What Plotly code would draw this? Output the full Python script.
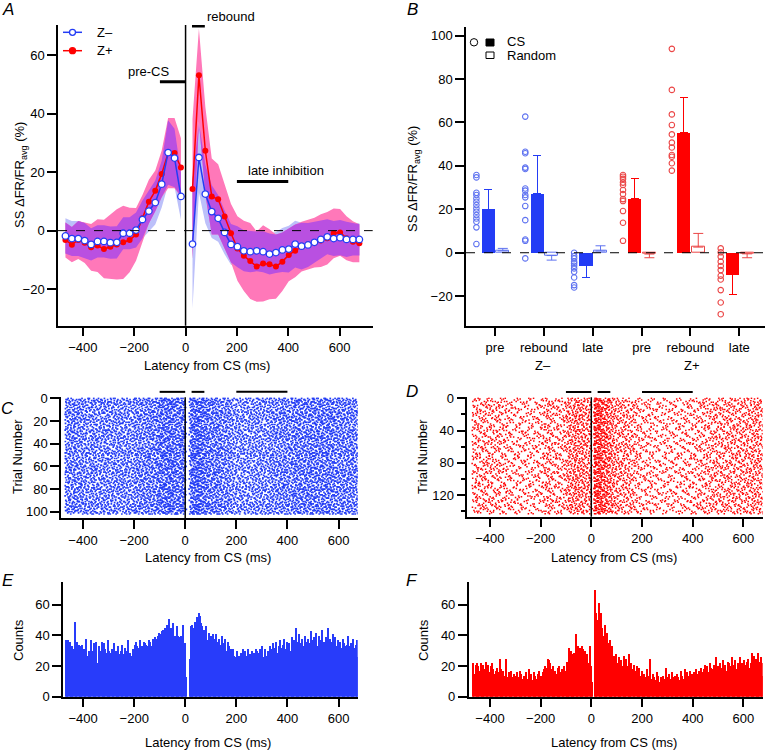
import numpy as np
import plotly.graph_objects as go

W, H = 765, 750
def X(px): return px / W
def Y(py): return 1 - py / H

# ---------------- Panel A data ----------------
lat_pre = [-468, -443, -418, -393, -368, -343, -318, -293, -268, -243, -218, -193, -168, -143, -118, -93, -68, -43, -18]
lat_post = [27, 52, 77, 102, 127, 152, 177, 202, 227, 252, 277, 302, 327, 352, 377, 402, 427, 452, 477, 502, 527, 552, 577, 602, 627, 652, 677]

zminus_pre = [-1.8, -2.7, -2.7, -3.4, -4.7, -3.7, -3.7, -4.1, -4.0, -0.9, -0.9, 0.2, 3.8, 6.7, 9.6, 15.9, 26.7, 24.8, 11.7]
zminus_pre_sd = [6, 6, 6, 6, 5.5, 5.5, 5.5, 5.5, 5.5, 5.5, 5.5, 6, 6.5, 7, 7.5, 8, 11, 10, 8]
zplus_pre = [-3.2, -4.8, -3.2, -4.1, -5.7, -5.1, -6.3, -5.5, -4.7, -4.0, -3.2, -1.3, 4.2, 9.9, 13.6, 19.4, 26.5, 26.5, 21.6]
zplus_pre_sd = [6, 6, 6.5, 7, 8, 9, 10, 11, 12, 12.5, 11, 9, 8, 7.5, 7, 8, 12, 12, 10]

zminus_post = [-4.6, 25, 12.5, 6.5, 4.2, -0.6, -4.7, -5.5, -6.9, -7.2, -6.9, -7.2, -8, -7.5, -6.6, -6.3, -4.6, -5.3, -4.9, -4.0, -3.0, -2.1, -2.7, -2.4, -3, -3, -3]
zminus_post_sd = [22, 12, 10, 9, 8, 7.5, 7, 7, 7, 7, 7, 7, 7, 7, 7.5, 8, 8, 8, 7.5, 7, 6.5, 6, 6, 6, 6, 5.5, 5.5]
zplus_post = [14.2, 53.1, 27.3, 11.7, 10.7, 4.8, -0.9, -6.1, -8.6, -10.4, -12.3, -11.2, -11.5, -12.3, -10.6, -8.3, -6.9, -5.5, -4.7, -4.1, -3.4, -2.6, -0.9, -0.6, -2.6, -3.8, -4.3]
zplus_post_sd = [24, 16, 15, 13, 12, 11, 10, 11, 12, 13, 12, 13, 12, 11, 10, 9, 9, 8.5, 8.5, 8.5, 9, 9, 8.5, 8, 7.5, 7, 6.5]

# ---------------- Panel B data ----------------
categories = ['pre', 'rebound', 'late', 'pre', 'rebound', 'late']
cs_mean = [20.1, 27.3, -6.1, 24.9, 55.3, -10.0]
cs_err = [8.8, 17.7, 5.3, 9.1, 16.1, 9.2]
rand_mean = [0.9, -1.3, 0.8, -0.6, 2.6, -0.5]
rand_err = [1.1, 2.1, 2.4, 1.7, 6.3, 1.8]
cell_values = [
    [35.8, 34.7, 27.6, 26.6, 25.0, 23.5, 22.0, 20.4, 18.9, 17.4, 15.8, 14.3, 11.7, 4.0],
    [62.7, 46.5, 45.8, 39.2, 38.6, 29.6, 28.6, 26.6, 25.5, 21.5, 15.0, 6.1, 5.5, -2.6],
    [0.0, -1.5, -2.6, -4.1, -4.9, -6.0, -7.2, -8.8, -11.4, -14.9, -16.0],
    [35.8, 35.0, 34.0, 32.3, 31.2, 28.9, 27.0, 24.7, 23.8, 19.2, 13.8, 5.5],
    [93.9, 75.0, 63.7, 58.8, 54.5, 50.7, 48.5, 45.0, 44.2, 41.2, 37.8],
    [2.0, 0.2, -1.8, -4.1, -6.1, -8.0, -10.6, -12.3, -17.2, -22.9, -28.3],
]

# ---------------- Panels E/F histogram data (5 ms bins from -470 ms) ----------------
bin_start, bin_width = -470, 5
counts_zminus = [
    37, 28, 37, 36, 30, 33, 31, 49, 22, 36,
    34, 30, 33, 34, 31, 29, 38, 27, 30, 26,
    37, 30, 35, 31, 36, 22, 33, 30, 36, 25,
    35, 31, 29, 37, 30, 29, 31, 28, 35, 30,
    29, 33, 28, 30, 34, 28, 32, 30, 27, 37,
    29, 27, 26, 31, 34, 36, 33, 32, 37, 33,
    33, 36, 35, 34, 33, 37, 36, 33, 38, 37,
    39, 38, 40, 42, 41, 43, 44, 42, 45, 47,
    43, 51, 45, 42, 48, 40, 40, 46, 40, 39,
    40, 38, 47, 35, 13, 0, 0, 25, 46, 47,
    45, 49, 48, 52, 55, 53, 48, 46, 44, 38,
    46, 37, 42, 35, 40, 41, 33, 38, 41, 36,
    38, 34, 40, 35, 32, 38, 30, 36, 33, 31,
    29, 31, 27, 26, 30, 25, 27, 29, 26, 31,
    30, 26, 27, 31, 28, 25, 30, 29, 27, 31,
    30, 29, 31, 28, 33, 26, 31, 27, 30, 29,
    33, 31, 35, 30, 32, 36, 29, 33, 37, 32,
    34, 38, 31, 36, 33, 35, 30, 39, 34, 37,
    45, 33, 36, 41, 35, 38, 33, 40, 36, 34,
    38, 35, 43, 37, 39, 36, 42, 33, 40, 35,
    37, 44, 36, 33, 39, 45, 34, 38, 36, 41,
    35, 39, 33, 37, 34, 36, 32, 38, 35, 33,
    34, 40, 33, 35, 31, 38, 32, 34, 37, 26,
]
counts_zplus = [
    22, 15, 21, 22, 20, 17, 22, 14, 21, 18,
    23, 19, 21, 16, 20, 22, 18, 15, 17, 19,
    16, 25, 18, 15, 17, 14, 25, 13, 16, 15,
    17, 13, 15, 12, 14, 16, 13, 17, 15, 12,
    14, 13, 16, 12, 18, 13, 15, 11, 16, 14,
    12, 15, 17, 13, 14, 16, 18, 20, 19, 25,
    24, 22, 18, 20, 16, 17, 15, 19, 20, 16,
    18, 15, 20, 17, 23, 22, 32, 30, 25, 28,
    29, 41, 26, 33, 32, 24, 33, 31, 30, 22,
    28, 22, 33, 20, 10, 0, 70, 55, 50, 61,
    48, 55, 45, 40, 47, 38, 42, 35, 37, 30,
    33, 27, 25, 28, 22, 26, 21, 24, 20, 27,
    22, 25, 20, 28, 19, 22, 18, 21, 17, 20,
    16, 19, 14, 17, 12, 15, 13, 18, 14, 11,
    25, 12, 15, 13, 11, 16, 14, 10, 13, 12,
    14, 12, 19, 13, 11, 15, 12, 16, 13, 14,
    12, 15, 13, 11, 17, 14, 12, 18, 13, 16,
    14, 17, 13, 15, 16, 14, 18, 15, 17, 16,
    19, 16, 18, 21, 17, 20, 16, 22, 19, 18,
    21, 18, 26, 20, 17, 22, 19, 24, 20, 21,
    17, 23, 22, 20, 26, 19, 21, 24, 18, 22,
    20, 26, 22, 18, 24, 21, 23, 25, 19, 22,
    29, 22, 27, 25, 20, 29, 23, 26, 22, 14,
]
n_trials_zminus = 103
n_trials_zplus = 144

BLUE = 'rgb(35,60,245)'
RED = 'rgb(255,0,0)'
BLUE_LIGHT = 'rgb(95,115,240)'
RED_LIGHT = 'rgb(235,70,70)'
BAND_BLUE = 'rgb(188,192,250)'
BAND_RED = 'rgb(255,120,185)'
BAND_OVL = 'rgb(185,80,225)'
FONT = 'Liberation Sans'

fig = go.Figure()

# ---------------- Panel A ----------------
def band(x, lo, hi, color):
    fig.add_trace(go.Scatter(x=x, y=lo, mode='lines', line=dict(width=0), hoverinfo='skip',
                             xaxis='x', yaxis='y', showlegend=False))
    fig.add_trace(go.Scatter(x=x, y=hi, mode='lines', line=dict(width=0), fill='tonexty',
                             fillcolor=color, hoverinfo='skip', xaxis='x', yaxis='y', showlegend=False))

segments = [
    (lat_pre, zminus_pre, zminus_pre_sd, zplus_pre, zplus_pre_sd),
    (lat_post, zminus_post, zminus_post_sd, zplus_post, zplus_post_sd),
]
for lat, bm, bs, rm, rs in segments:
    band(lat, np.array(bm) - np.array(bs), np.array(bm) + np.array(bs), BAND_BLUE)
for lat, bm, bs, rm, rs in segments:
    band(lat, np.array(rm) - np.array(rs), np.array(rm) + np.array(rs), BAND_RED)
for lat, bm, bs, rm, rs in segments:
    blo, bhi = np.array(bm) - np.array(bs), np.array(bm) + np.array(bs)
    rlo, rhi = np.array(rm) - np.array(rs), np.array(rm) + np.array(rs)
    ohi = np.minimum(bhi, rhi)
    olo = np.minimum(np.maximum(blo, rlo), ohi)
    band(lat, olo, ohi, BAND_OVL)

for lat, vals in [(lat_pre, zplus_pre), (lat_post, zplus_post)]:
    fig.add_trace(go.Scatter(x=lat, y=vals, mode='lines+markers', xaxis='x', yaxis='y',
                             line=dict(color=RED, width=1.5),
                             marker=dict(color=RED, size=6, line=dict(width=0)), showlegend=False))
for lat, vals in [(lat_pre, zminus_pre), (lat_post, zminus_post)]:
    fig.add_trace(go.Scatter(x=lat, y=vals, mode='lines+markers', xaxis='x', yaxis='y',
                             line=dict(color=BLUE, width=1.5),
                             marker=dict(color='white', size=6.5, line=dict(color=BLUE, width=1.3)),
                             showlegend=False))

# ---------------- Panel B ----------------
idx = list(range(len(categories)))
for grp, color, light in [([0, 1, 2], BLUE, BLUE_LIGHT), ([3, 4, 5], RED, RED_LIGHT)]:
    cm = [cs_mean[i] for i in grp]
    ce = [cs_err[i] for i in grp]
    fig.add_trace(go.Bar(x=grp, y=cm, offset=-0.272, width=0.27, xaxis='x2', yaxis='y2',
                         marker=dict(color=color, line=dict(width=0)),
                         error_y=dict(type='data', symmetric=False,
                                      array=[e if m >= 0 else 0 for m, e in zip(cm, ce)],
                                      arrayminus=[e if m < 0 else 0 for m, e in zip(cm, ce)],
                                      color=color, thickness=1, width=4),
                         showlegend=False))
    rm_ = [rand_mean[i] for i in grp]
    re_ = [rand_err[i] for i in grp]
    fig.add_trace(go.Bar(x=grp, y=rm_, offset=0.025, width=0.27, xaxis='x2', yaxis='y2',
                         marker=dict(color='white', line=dict(color=light, width=1)),
                         error_y=dict(type='data', symmetric=False,
                                      array=[e if m >= 0 else 0 for m, e in zip(rm_, re_)],
                                      arrayminus=[e if m < 0 else 0 for m, e in zip(rm_, re_)],
                                      color=light, thickness=1, width=5),
                         showlegend=False))
    xs, ys = [], []
    for i in grp:
        for v in cell_values[i]:
            xs.append(i - 0.38)
            ys.append(v)
    fig.add_trace(go.Scatter(x=xs, y=ys, mode='markers', xaxis='x2', yaxis='y2',
                             marker=dict(symbol='circle-open', size=5.5, color=light, line=dict(width=1.1)),
                             showlegend=False))

# ---------------- Panels C/D rasters (spikes placed from histogram counts) ----------------
bins_left = [bin_start + bin_width * i for i in range(len(counts_zminus))]

def radical_inverse(n, base):
    inv, f = 0.0, 1.0 / base
    while n > 0:
        inv += f * (n % base)
        n //= base
        f /= base
    return inv

def raster(counts, n_trials):
    # each bin's spikes are spread over the trials with a quasi-uniform (Halton) sequence
    xs, ys = [], []
    for i, c in enumerate(counts):
        start = i * 29 + 1
        for k in range(c):
            t = int(n_trials * radical_inverse(start + k, 2))
            xs.append(bins_left[i] + bin_width * radical_inverse(start + k, 3))
            ys.append(t)
    return xs, ys

rx, ry = raster(counts_zminus, n_trials_zminus)
fig.add_trace(go.Scatter(x=rx, y=ry, mode='markers', xaxis='x3', yaxis='y3',
                         marker=dict(symbol='square', size=1.7, color=BLUE, line=dict(width=0)),
                         showlegend=False, hoverinfo='skip'))
rx, ry = raster(counts_zplus, n_trials_zplus)
fig.add_trace(go.Scatter(x=rx, y=ry, mode='markers', xaxis='x4', yaxis='y4',
                         marker=dict(symbol='square', size=1.5, color=RED, line=dict(width=0)),
                         showlegend=False, hoverinfo='skip'))

# ---------------- Panels E/F histograms ----------------
centers = [b + bin_width / 2 for b in bins_left]
fig.add_trace(go.Bar(x=centers, y=counts_zminus, width=bin_width, xaxis='x5', yaxis='y5',
                     marker=dict(color='rgb(40,60,250)', line=dict(width=0)), showlegend=False))
fig.add_trace(go.Bar(x=centers, y=counts_zplus, width=bin_width, xaxis='x6', yaxis='y6',
                     marker=dict(color=RED, line=dict(width=0)), showlegend=False))

# ---------------- Axes ----------------
ax = dict(showline=True, linecolor='black', linewidth=1.5, ticks='outside', ticklen=9,
          tickwidth=1.5, tickcolor='black', showgrid=False, zeroline=False,
          tickfont=dict(family=FONT, size=13, color='black'))
lat_ticks = dict(tickvals=[-400, -200, 0, 200, 400, 600])

fig.update_layout(
    xaxis=dict(**ax, **lat_ticks, domain=[X(58), X(372.7)], range=[-497, 729], anchor='y'),
    yaxis=dict(**ax, domain=[Y(325.7), Y(25)], range=[-32.5, 70.3], tickvals=[-20, 0, 20, 40, 60], anchor='x'),
    xaxis2=dict(**ax, domain=[X(466), X(765)], range=[-0.593, 5.526], tickvals=idx, ticktext=categories, anchor='y2'),
    yaxis2=dict(**ax, domain=[Y(325.7), Y(26.7)], range=[-33.6, 104.1], tickvals=[-20, 0, 20, 40, 60, 80, 100], anchor='x2'),
    xaxis3=dict(**ax, **lat_ticks, domain=[X(61), X(357.7)], range=[-486, 675], anchor='y3'),
    yaxis3=dict(**ax, domain=[Y(518.3), Y(397.3)], range=[105.8, -1], tickvals=[0, 20, 40, 60, 80, 100], anchor='x3'),
    xaxis4=dict(**ax, **lat_ticks, domain=[X(467.3), X(762.7)], range=[-489, 676], anchor='y4'),
    yaxis4=dict(**ax, domain=[Y(516.7), Y(397.3)], range=[146.8, -1.2], tickvals=[0, 40, 80, 120], anchor='x4',
                minor=dict(ticks='outside', ticklen=5, tickwidth=1.5, tickcolor='black', tickvals=[20, 60, 100, 140])),
    xaxis5=dict(**ax, **lat_ticks, domain=[X(63), X(357.7)], range=[-479, 675], anchor='y5'),
    yaxis5=dict(**ax, domain=[Y(696.7), Y(581.7)], range=[0, 75], tickvals=[0, 20, 40, 60], anchor='x5'),
    xaxis6=dict(**ax, **lat_ticks, domain=[X(468.7), X(762.7)], range=[-484, 676], anchor='y6'),
    yaxis6=dict(**ax, domain=[Y(696.7), Y(581.7)], range=[0, 75], tickvals=[0, 20, 40, 60], anchor='x6'),
)

shapes = []
# Panel A reference lines and epoch bars
shapes.append(dict(type='line', xref='x domain', yref='y', x0=0, x1=1, y0=0, y1=0,
                   line=dict(color='black', width=1, dash='dash')))
shapes.append(dict(type='line', xref='x', yref='y domain', x0=0, x1=0, y0=0, y1=1,
                   line=dict(color='black', width=1.5)))
shapes.append(dict(type='line', xref='x', yref='y', x0=-100, x1=0, y0=50.9, y1=50.9, line=dict(color='black', width=3)))
shapes.append(dict(type='line', xref='x', yref='y', x0=25, x1=75, y0=70.0, y1=70.0, line=dict(color='black', width=3)))
shapes.append(dict(type='line', xref='x', yref='y', x0=200, x1=400, y0=16.8, y1=16.8, line=dict(color='black', width=3)))
# Panel B zero line
shapes.append(dict(type='line', xref='x2 domain', yref='y2', x0=0, x1=1, y0=0, y1=0,
                   line=dict(color='black', width=1, dash='dash')))
# Rasters: CS line and epoch bars above
for xr, yr in [('x3', 'y3'), ('x4', 'y4')]:
    shapes.append(dict(type='line', xref=xr, yref=yr + ' domain', x0=0, x1=0, y0=0, y1=1,
                       line=dict(color='black', width=1.5)))
    for a, b in [(-100, 0), (25, 75), (200, 400)]:
        shapes.append(dict(type='line', xref=xr, yref=yr + ' domain', x0=a, x1=b, y0=1.045, y1=1.045,
                           line=dict(color='black', width=2)))

# Legend glyphs, panel A
for py, col, fill in [(32.3, BLUE, 'white'), (50.7, RED, RED)]:
    shapes.append(dict(type='line', xref='paper', yref='paper', x0=X(63), x1=X(82), y0=Y(py), y1=Y(py),
                       line=dict(color=col, width=1.5)))
    shapes.append(dict(type='circle', xref='paper', yref='paper', x0=X(69.5), x1=X(75.5),
                       y0=Y(py + 3), y1=Y(py - 3), fillcolor=fill, line=dict(color=col, width=1.3)))
# Legend glyphs, panel B
shapes.append(dict(type='circle', xref='paper', yref='paper', x0=X(470.3), x1=X(477.7),
                   y0=Y(46), y1=Y(38.6), line=dict(color='black', width=1)))
shapes.append(dict(type='rect', xref='paper', yref='paper', x0=X(486), x1=X(494), y0=Y(46), y1=Y(39),
                   fillcolor='black', line=dict(color='black', width=1)))
shapes.append(dict(type='rect', xref='paper', yref='paper', x0=X(486), x1=X(494), y0=Y(58.5), y1=Y(52),
                   fillcolor='white', line=dict(color='black', width=1)))

annotations = []
def ann(text, px, py, xanchor='center', size=13, angle=0):
    annotations.append(dict(text=text, x=X(px), y=Y(py), xref='paper', yref='paper', showarrow=False,
                            xanchor=xanchor, yanchor='middle', textangle=angle,
                            font=dict(family=FONT, size=size, color='black')))

for letter, px, py in [('A', 8, 10), ('B', 412, 10), ('C', 8, 408), ('D', 412, 392), ('E', 8, 580), ('F', 412, 580)]:
    ann('<i>%s</i>' % letter, px, py, size=17)

ann('Z–', 95, 32.3, 'left')
ann('Z+', 95, 50.7, 'left')
ann('pre-CS', 149, 71.5)
ann('rebound', 205, 16.7, 'left')
ann('late inhibition', 246, 171, 'left')
ann('CS', 505, 41.5, 'left')
ann('Random', 505, 56, 'left')
ann('Z–', 543.3, 365)
ann('Z+', 691.7, 365)

ann('SS ΔFR/FR<sub>avg</sub> (%)', 20, 175, angle=-90)
ann('SS ΔFR/FR<sub>avg</sub> (%)', 413, 179, angle=-90)
ann('Trial Number', 18, 457, angle=-90)
ann('Trial Number', 423, 457, angle=-90)
ann('Counts', 18, 640, angle=-90)
ann('Counts', 423, 640, angle=-90)
ann('Latency from CS (ms)', 207.5, 365)
ann('Latency from CS (ms)', 208, 557)
ann('Latency from CS (ms)', 614, 557)
ann('Latency from CS (ms)', 208, 742.7)
ann('Latency from CS (ms)', 614, 742.7)

fig.update_layout(
    width=W, height=H, autosize=False,
    margin=dict(l=0, r=0, t=0, b=0, autoexpand=False),
    paper_bgcolor='white', plot_bgcolor='white',
    font=dict(family=FONT, size=13, color='black'),
    showlegend=False, barmode='overlay', bargap=0,
    shapes=shapes, annotations=annotations,
)

fig.write_html('out.html', config={'displayModeBar': False},
               post_script="document.body.style.margin='0';document.body.style.padding='0';"
                           "document.body.style.overflow='hidden';")
